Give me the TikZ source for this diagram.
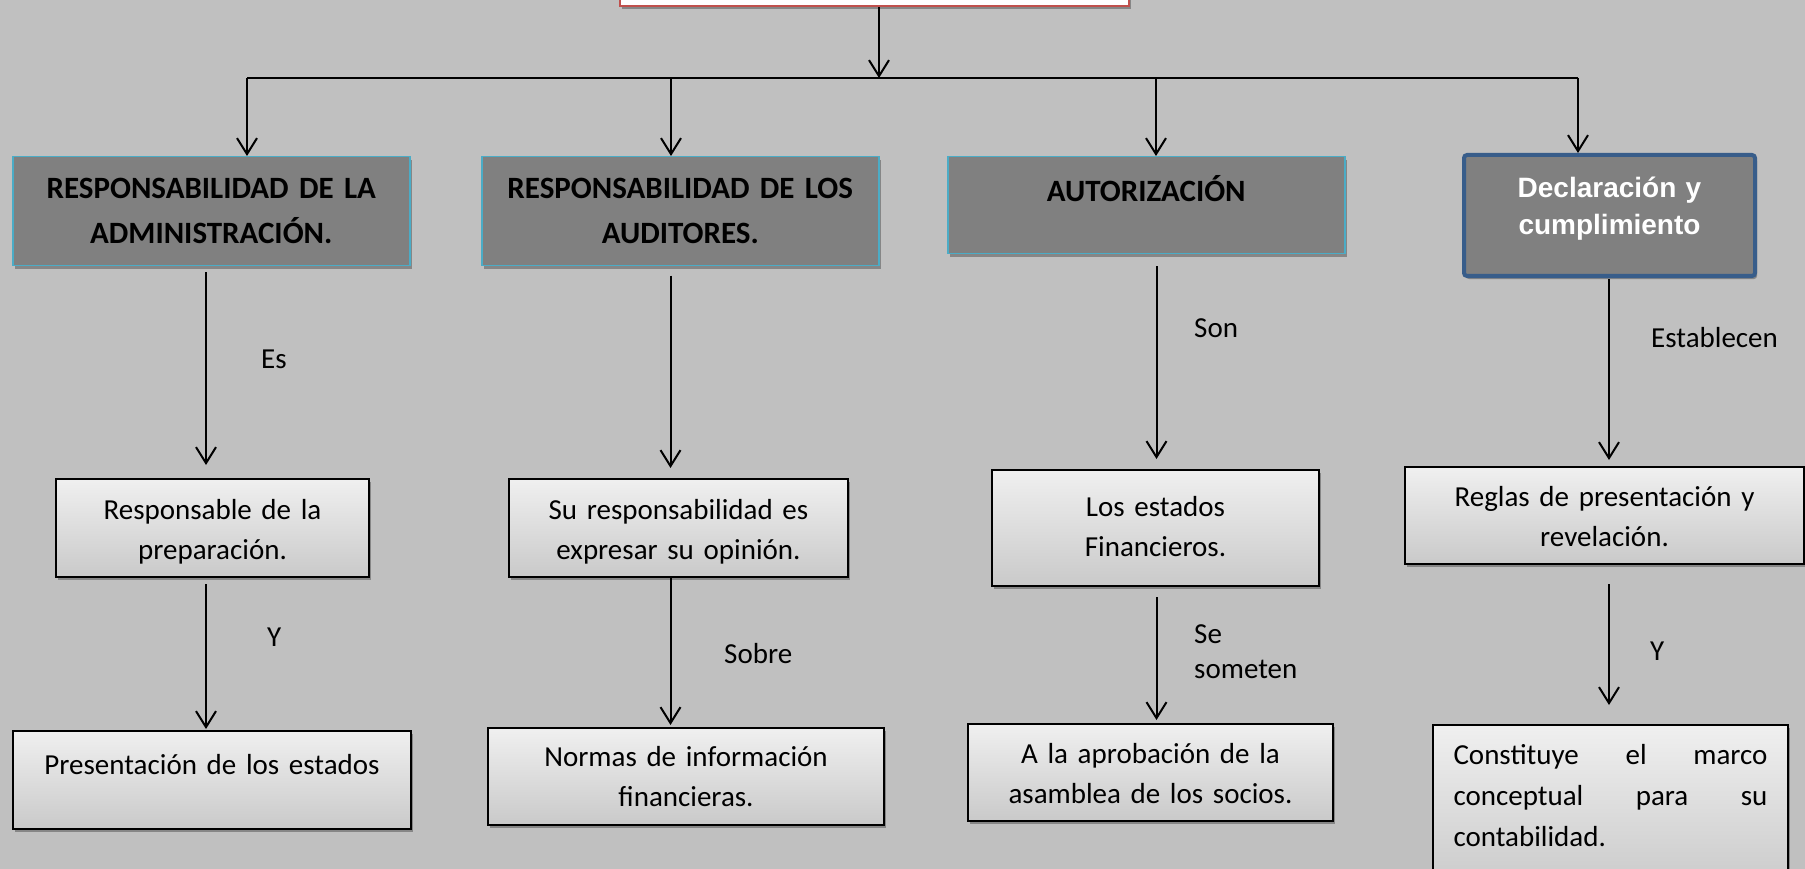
\documentclass[tikz,border=0pt]{standalone}
\usepackage{fontspec}
\setmainfont{Carlito}
\newfontfamily\arialfont{Liberation Sans}
\usetikzlibrary{arrows.meta,shadows}

\definecolor{bggray}{RGB}{192,192,192}
\definecolor{headgray}{RGB}{128,128,128}
\definecolor{headline}{RGB}{75,172,198}
\definecolor{declline}{RGB}{56,93,138}
\definecolor{topline}{RGB}{192,80,77}

\begin{document}
\begin{tikzpicture}[x=1pt,y=-1pt,
  arr/.style={line width=2pt,-{Straight Barb[length=16pt,width=20pt,line width=2pt]}},
  shade box/.style={drop shadow={shadow xshift=2pt,shadow yshift=-3pt,fill=black,opacity=.3}},
  head/.style={rectangle,draw=headline,line width=1.5pt,fill=headgray,inner sep=0pt,align=center,
    font=\bfseries\fontsize{31}{45}\selectfont,shade box},
  leaf/.style={rectangle,draw=black,line width=2pt,top color=black!6,bottom color=black!21,inner sep=0pt,
    align=center,font=\fontsize{29}{40.5}\selectfont,shade box},
  lbl/.style={anchor=base west,inner sep=0pt,font=\fontsize{29}{35}\selectfont,align=left},
  dims/.style n args={3}{text width=#1pt,text height=#2pt,text depth=#3pt,anchor=north west}]
\useasboundingbox (0,0) rectangle (1805,869);
\fill[bggray] (0,0) rectangle (1805,869);

% top box (cut by the page)
\node[rectangle,draw=topline,line width=2pt,fill=white,minimum width=509pt,minimum height=60pt,
  anchor=south,shade box] (top) at (874.5,7) {};

% headers
\node[head,dims={397}{42}{67}] (h1) at (12,156) {RESPONSABILIDAD DE LA\\ADMINISTRACIÓN.};
\node[head,dims={397}{42}{67}] (h2) at (481,156) {RESPONSABILIDAD DE LOS\\AUDITORES.};
\node[head,dims={397}{45}{52}] (h3) at (947,156) {AUTORIZACIÓN};
\node[head,draw=declline,line width=4pt,rounded corners=3pt,text=white,
  font=\arialfont\bfseries\fontsize{28}{37}\selectfont,dims={291}{43}{78}] (h4) at (1462,153) {Declaración y\\cumplimiento};

% second row
\node[leaf,dims={313}{40}{58}] (m1) at (55,478) {Responsable de la\\preparación.};
\node[leaf,dims={339}{40}{58}] (m2) at (508,478) {Su responsabilidad es\\expresar su opinión.};
\node[leaf,dims={327}{46}{70}] (m3) at (991,469) {Los estados\\Financieros.};
\node[leaf,dims={399}{39}{58}] (m4) at (1404,466) {Reglas de presentación y\\revelación.};

% third row
\node[leaf,dims={398}{43}{55}] (b1) at (12,730) {Presentación de los estados};
\node[leaf,dims={396}{38}{59}] (b2) at (487,727) {Normas de información\\financieras.};
\node[leaf,dims={365}{39}{58}] (b3) at (967,723) {A la aprobación de la\\asamblea de los socios.};
\node[leaf,dims={314}{39}{127},inner xsep=20.5pt,align=left,font=\fontsize{29}{41}\selectfont] (b4) at (1432,724)
  {\makebox[314pt]{Constituye\hfill el\hfill marco}\\\makebox[314pt]{conceptual\hfill para\hfill su}\\contabilidad.};

% bus and drops
\coordinate (bus) at (879,78);
\coordinate (d1) at (247,78);
\coordinate (d2) at (671,78);
\coordinate (d3) at (1156,78);
\coordinate (d4) at (1578,78);
\draw[line width=2pt] (d1) -- (d4);
\path[arr] (top.south -| bus) edge (bus);
\path[arr] (d1) edge (d1 |- h1.north);
\path[arr] (d2) edge (d2 |- h2.north);
\path[arr] (d3) edge (d3 |- h3.north);
\path[arr] (d4) edge (d4 |- h4.north);

% columns
\coordinate (c1) at (206,0);
\coordinate (c2) at (670.5,0);
\coordinate (c3) at (1156.5,0);
\coordinate (c4) at (1609,0);
\path[arr] (c1 |- h1.south) edge[shorten <=6pt,shorten >=13pt] (c1 |- m1.north);
\path[arr] (c1 |- m1.south) edge[shorten <=6pt,shorten >=1pt] (c1 |- b1.north);
\path[arr] (c2 |- h2.south) edge[shorten <=9pt,shorten >=10pt] (c2 |- m2.north);
\path[arr] (c2 |- m2.south) edge[shorten >=2pt] (c2 |- b2.north);
\path[arr] (c3 |- h3.south) edge[shorten <=12pt,shorten >=10pt] (c3 |- m3.north);
\path[arr] (c3 |- m3.south) edge[shorten <=10pt,shorten >=3pt] (c3 |- b3.north);
\path[arr] (c4 |- h4.south) edge[shorten <=1pt,shorten >=6pt] (c4 |- m4.north);
\path[arr] (c4 |- m4.south) edge[shorten <=19pt,shorten >=19pt] (c4 |- b4.north);

% labels
\node[lbl] (es) at (261,368) {Es};
\node[lbl] (son) at (1194,337) {Son};
\node[lbl] (est) at (1651,347) {Establecen};
\node[lbl] (y1) at (267,646) {Y};
\node[lbl] (sobre) at (724,663) {Sobre};
\node[lbl,text width=130pt] (some) at (1194,643) {Se\\someten};
\node[lbl] (y4) at (1650,660) {Y};
\end{tikzpicture}
\end{document}
